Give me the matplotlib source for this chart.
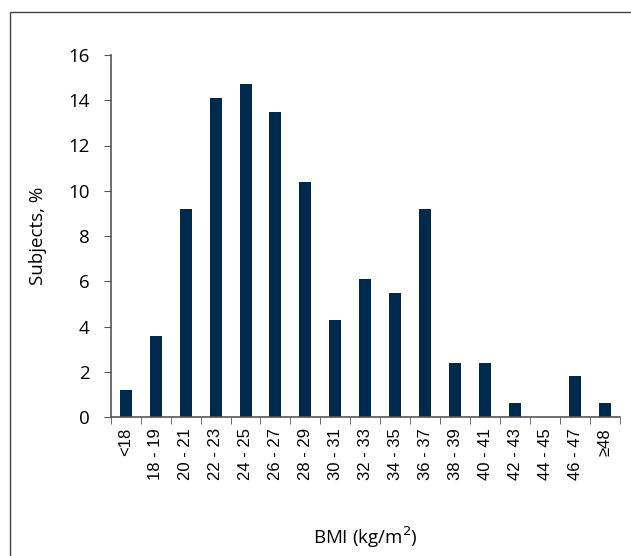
import matplotlib.pyplot as plt
import numpy as np
from matplotlib.patches import Rectangle

categories = ['<18', '18 - 19', '20 - 21', '22 - 23', '24 - 25', '26 - 27', '28 - 29',
              '30 - 31', '32 - 33', '34 - 35', '36 - 37', '38 - 39', '40 - 41',
              '42 - 43', '44 - 45', '46 - 47', '≥48']
subjects = [1.2, 3.6, 9.2, 14.1, 14.7, 13.5, 10.4, 4.3, 6.1, 5.5, 9.2, 2.4, 2.4,
            0.6, 0.0, 1.8, 0.6]

fig = plt.figure(figsize=(6.31, 5.56), dpi=100)
ax = fig.add_axes([110.7 / 631, 1 - 417 / 556, (620 - 110.7) / 631, (417 - 55) / 556])

# outer frame
fig.patches.append(Rectangle((10 / 631, -0.05), 1.0, 1 - 12 / 556 + 0.05,
                             transform=fig.transFigure, fill=False,
                             edgecolor='#444444', linewidth=1.0))

x = np.arange(len(categories))
ax.bar(x, subjects, width=0.4, color='#002a4d')

ax.set_xlim(-0.5, len(categories) - 0.5)
ax.set_ylim(0, 16)
ax.set_yticks(range(0, 17, 2))
ax.set_xticks(x)
ax.set_xticklabels(categories, rotation=90, fontsize=12, family='Liberation Sans')
ax.set_xticks(np.arange(-0.5, len(categories), 1), minor=True)
ax.tick_params(axis='x', which='major', length=0, pad=8)
ax.tick_params(axis='x', which='minor', length=5, direction='out', color='#555555')
ax.tick_params(axis='y', length=5, color='#555555', labelsize=13.5, pad=10)
for lab in ax.get_yticklabels():
    lab.set_family('Open Sans')

for s in ['top', 'right']:
    ax.spines[s].set_visible(False)
for s in ['left', 'bottom']:
    ax.spines[s].set_color('#555555')
    ax.spines[s].set_linewidth(1.2)

fig.text(38 / 631, 0.5 * (2 - (417 + 55) / 556), 'Subjects, %', rotation=90,
         ha='center', va='center', fontsize=13.5, family='Open Sans')
fig.text(365 / 631, 1 - 537 / 556, 'BMI (kg/m$^2$)', ha='center', va='center',
         fontsize=13.5, family='Open Sans')

fig.savefig('out.png', dpi=100)
